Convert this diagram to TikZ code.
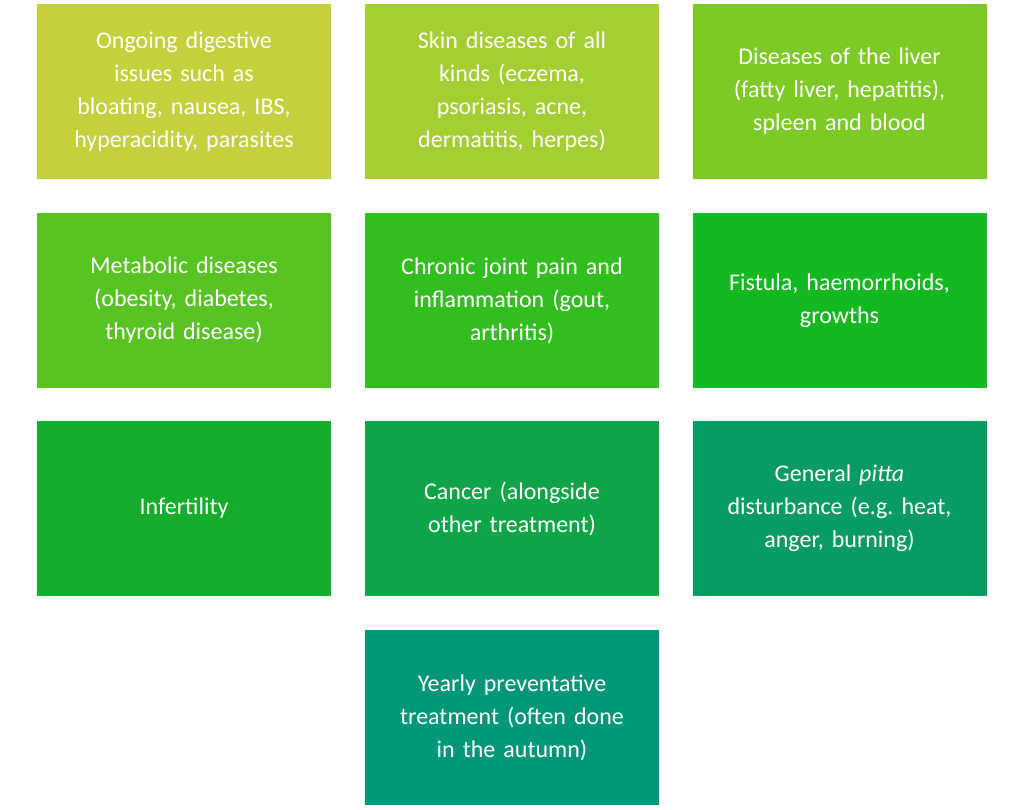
\documentclass[tikz,border=0pt]{standalone}
\usepackage{fontspec}
\setmainfont{Carlito}
\definecolor{c1}{RGB}{196,208,60}
\definecolor{c2}{RGB}{165,206,50}
\definecolor{c3}{RGB}{125,201,38}
\definecolor{c4}{RGB}{88,196,36}
\definecolor{c5}{RGB}{50,190,30}
\definecolor{c6}{RGB}{20,184,32}
\definecolor{c7}{RGB}{20,174,44}
\definecolor{c8}{RGB}{14,165,72}
\definecolor{c9}{RGB}{8,156,100}
\definecolor{c10}{RGB}{0,150,120}
\begin{document}
\begin{tikzpicture}[x=1pt,y=-1pt,
 box/.style={minimum width=294pt,minimum height=175pt,inner sep=0pt,text=white,
  font=\fontsize{24}{33}\selectfont,align=center,text width=285pt}]
\useasboundingbox[fill=white] (0,0) rectangle (1024,809);
\node[box,fill=c1] (a) at (184,91.5) {Ongoing digestive\\issues such as\\bloating, nausea, IBS,\\hyperacidity, parasites};
\node[box,fill=c2] (b) at (512,91.5) {Skin diseases of all\\kinds (eczema,\\psoriasis, acne,\\dermatitis, herpes)};
\node[box,fill=c3] (c) at (839.5,91.5) {Diseases of the liver\\(fatty liver, hepatitis),\\spleen and blood};
\node[box,fill=c4] (d) at (184,300.5) {Metabolic diseases\\(obesity, diabetes,\\thyroid disease)};
\node[box,fill=c5] (e) at (512,300.5) {Chronic joint pain and\\inflammation (gout,\\arthritis)};
\node[box,fill=c6] (f) at (839.5,300.5) {Fistula, haemorrhoids,\\growths};
\node[box,fill=c7] (g) at (184,508.5) {Infertility};
\node[box,fill=c8] (h) at (512,508.5) {Cancer (alongside\\other treatment)};
\node[box,fill=c9] (i) at (839.5,508.5) {General \textit{pitta}\\disturbance (e.g.\ heat,\\anger, burning)};
\node[box,fill=c10] (j) at (512,717.5) {Yearly preventative\\treatment (often done\\in the autumn)};
\end{tikzpicture}
\end{document}
